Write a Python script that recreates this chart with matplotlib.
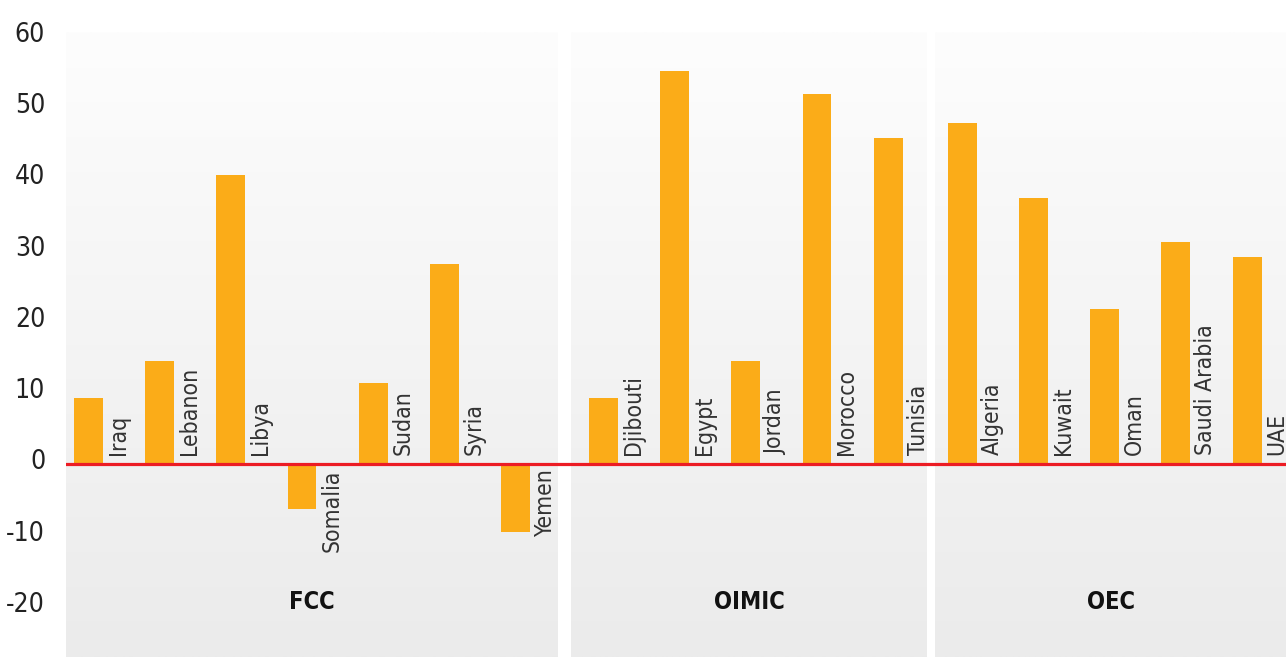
import numpy as np
import matplotlib
matplotlib.use('Agg')
import matplotlib.pyplot as plt
from matplotlib import font_manager
from matplotlib.colors import LinearSegmentedColormap
from matplotlib.transforms import ScaledTranslation

groups = ['FCC', 'OIMIC', 'OEC']

fcc_countries = ['Iraq', 'Lebanon', 'Libya', 'Somalia', 'Sudan', 'Syria', 'Yemen']
fcc_values = [9.3, 14.5, 40.6, -6.4, 11.4, 28.1, -9.5]

oimic_countries = ['Djibouti', 'Egypt', 'Jordan', 'Morocco', 'Tunisia']
oimic_values = [9.3, 55.2, 14.5, 51.9, 45.8]

oec_countries = ['Algeria', 'Kuwait', 'Oman', 'Saudi Arabia', 'UAE']
oec_values = [47.9, 37.3, 21.8, 31.2, 29.1]

yticks = [-20, -10, 0, 10, 20, 30, 40, 50, 60]

# pick a narrow font if there is one
font, stretch = 'DejaVu Sans', 'normal'
narrow = [f for f in font_manager.fontManager.ttflist
          if (f.stretch in ('condensed', 'semi-condensed')
              or 'Condensed' in f.name or 'Narrow' in f.name)
          and f.style == 'normal']
if narrow:
    narrow.sort(key=lambda f: (abs(int(f.weight) - 400) if str(f.weight).isdigit() else 0,
                               f.stretch != 'condensed'))
    font, stretch = narrow[0].name, narrow[0].stretch
plt.rcParams['font.family'] = [font, 'DejaVu Sans']
plt.rcParams['font.stretch'] = stretch

fig = plt.figure(figsize=(12.86, 6.57), dpi=100)
ax = fig.add_axes([66 / 1286, 0, 1220 / 1286, 1])

ymin, ymax = -27.1, 65.1
xmin, xmax = -0.316, 16.826
bar_w = 0.407
bar_color = '#fbac18'

group_start = [0.0, 7.236, 12.28]
panel_left = [-0.316, 6.78, 11.895]
panel_right = [6.597, 11.78, xmax]

cmap = LinearSegmentedColormap.from_list('bg', ['#ebebeb', '#fdfdfd'])
grad = np.linspace(0, 1, 256).reshape(-1, 1)
for x0, x1 in zip(panel_left, panel_right):
    ax.imshow(grad, extent=(x0, x1, ymin, 60.6), origin='lower', cmap=cmap,
              aspect='auto', zorder=0, interpolation='bilinear')

all_names = [fcc_countries, oimic_countries, oec_countries]
all_vals = [fcc_values, oimic_values, oec_values]
off = 4.0 / 71.17

for g, names, vals, start, x0, x1 in zip(groups, all_names, all_vals, group_start,
                                         panel_left, panel_right):
    xs = start + np.arange(len(vals))
    ax.bar(xs, vals, width=bar_w, color=bar_color, zorder=2)
    for x, name, v in zip(xs, names, vals):
        if v >= 0:
            ax.text(x + bar_w / 2 + off, 1.3, name, rotation=90, ha='left', va='bottom',
                    fontsize=16.5, color='#333333', zorder=4)
        else:
            ax.text(x + bar_w / 2 + off, -0.8, name, rotation=90, ha='left', va='top',
                    fontsize=16.5, color='#333333', zorder=4)
    ax.text((x0 + x1) / 2, -19.4, g, ha='center', va='center', fontsize=17,
            fontweight='bold', color='#111111')

ax.axhline(0, color='#ec1c24', lw=2.3, zorder=3)

ax.set_xlim(xmin, xmax)
ax.set_ylim(ymin, ymax)
ax.set_xticks([])
ax.set_yticks(yticks)
ax.set_yticklabels([str(t) for t in yticks])
ax.tick_params(axis='y', length=0, pad=15, labelsize=19, labelcolor='#222222')
for lab in ax.get_yticklabels():
    lab.set_transform(lab.get_transform() + ScaledTranslation(0, 4.5 / 100, fig.dpi_scale_trans))
for s in ax.spines.values():
    s.set_visible(False)

fig.savefig('out.png', dpi=100, facecolor='white')
